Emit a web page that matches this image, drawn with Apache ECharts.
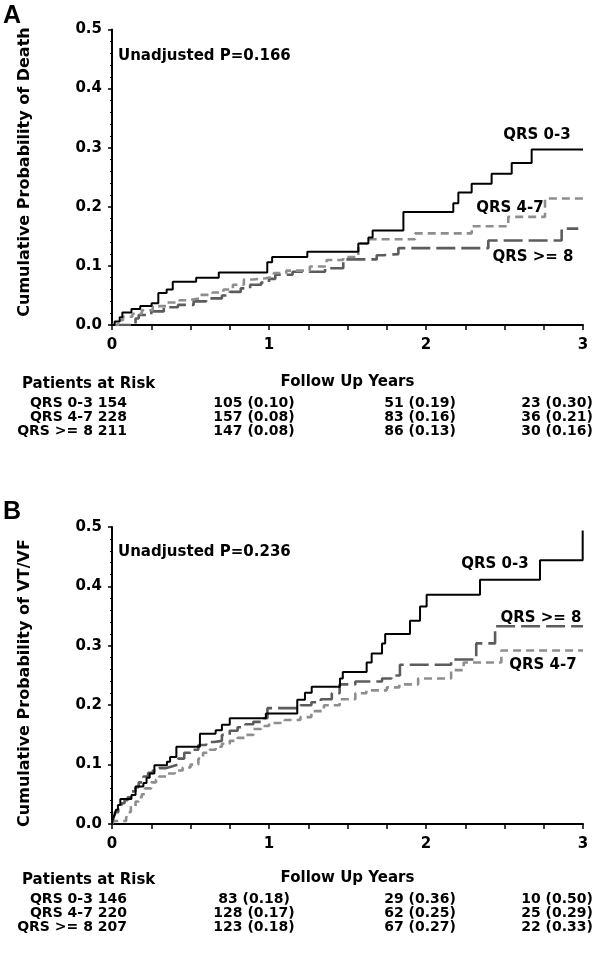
<!DOCTYPE html>
<html><head><meta charset="utf-8">
<script src="https://cdn.jsdelivr.net/npm/echarts/dist/echarts.min.js"></script>
<style>html,body{margin:0;padding:0;background:#fff}#c{width:600px;height:953px}</style>
</head><body><div id="c"></div>
<script>
// ---------- data ----------
const groups = ['QRS 0-3', 'QRS 4-7', 'QRS >= 8'];
const xTickLabels = [0, 1, 2, 3];

// Panel A: cumulative probability of death
const deathT03 = [0, .017, .049, .066, .124, .18, .252, .295, .348, .387, .536, .68, .989, 1.02, 1.244, 1.569, 1.633, 1.66, 1.856, 2.174, 2.206, 2.291, 2.418, 2.546, 2.673, 3.0];
const deathP03 = [0, .006, .013, .021, .027, .032, .037, .054, .06, .073, .08, .089, .106, .115, .124, .138, .148, .16, .191, .206, .224, .239, .256, .274, .297, .297];
const deathT47 = [0, .04, .07, .13, .19, .26, .35, .43, .49, .56, .64, .71, .77, .84, .90, .98, 1.03, 1.11, 1.26, 1.367, 1.473, 1.569, 1.643, 1.93, 2.291, 2.524, 2.758, 3.0];
const deathP47 = [0, .008, .014, .019, .025, .032, .038, .042, .045, .051, .055, .06, .068, .077, .079, .082, .088, .092, .099, .110, .115, .138, .145, .155, .167, .183, .214, .214];
const deathT8 = [0, .15, .17, .25, .33, .42, .52, .6, .7, .75, .82, .88, .95, 1.0, 1.04, 1.15, 1.357, 1.473, 1.686, 1.728, 1.824, 2.397, 2.864, 2.97];
const deathP8 = [0, .011, .017, .023, .03, .034, .04, .045, .05, .056, .062, .068, .072, .078, .085, .09, .096, .111, .118, .12, .13, .143, .163, .163];

// Panel B: cumulative probability of VT/VF
const vtT03 = [0, .006, .017, .025, .038, .053, .124, .15, .2, .22, .24, .27, .35, .37, .41, .56, .66, .70, .75, .98, 1.18, 1.229, 1.272, 1.452, 1.47, 1.622, 1.654, 1.72, 1.74, 1.898, 1.962, 2.004, 2.344, 2.726, 2.998];
const vtP03 = [0, .01, .015, .024, .032, .042, .049, .063, .069, .078, .085, .099, .105, .113, .13, .152, .158, .167, .178, .186, .209, .221, .231, .245, .256, .272, .287, .304, .32, .342, .366, .386, .411, .444, .494];
const vtT47 = [0, .01, .09, .1, .12, .15, .17, .19, .21, .25, .28, .3, .35, .4, .45, .5, .55, .58, .62, .66, .7, .75, .8, .85, .9, .95, 1.0, 1.1, 1.2, 1.27, 1.35, 1.45, 1.55, 1.62, 1.75, 1.83, 1.95, 2.16, 2.24, 2.48, 3.0];
const vtP47 = [0, .005, .01, .02, .03, .038, .045, .05, .06, .07, .075, .08, .085, .09, .095, .1, .11, .12, .125, .13, .135, .14, .145, .15, .16, .165, .17, .175, .18, .19, .2, .21, .22, .225, .23, .235, .245, .259, .272, .292, .292];
const vtT8 = [0, .01, .02, .04, .06, .08, .1, .12, .15, .17, .2, .23, .26, .3, .34, .38, .42, .46, .5, .55, .6, .65, .7, .75, .8, .85, .9, .95, .99, 1.2, 1.27, 1.33, 1.4, 1.45, 1.55, 1.72, 1.78, 1.834, 2.16, 2.32, 2.44, 3.0];
const vtP8 = [0, .01, .02, .03, .035, .04, .045, .055, .062, .07, .08, .086, .09, .094, .097, .1, .11, .12, .125, .133, .138, .14, .15, .157, .163, .168, .172, .178, .195, .2, .205, .21, .22, .235, .24, .245, .25, .268, .277, .304, .333, .333];

// Patients at risk (number, cumulative probability) at years 0..3
const riskDeathN = [[154, 105, 51, 23], [228, 157, 83, 36], [211, 147, 86, 30]];
const riskDeathP = [[null, .10, .19, .30], [null, .08, .16, .21], [null, .08, .13, .16]];
const riskVtN = [[146, 83, 29, 10], [220, 128, 62, 25], [207, 123, 67, 22]];
const riskVtP = [[null, .18, .36, .50], [null, .17, .25, .29], [null, .18, .27, .33]];

const pValues = ['Unadjusted P=0.166', 'Unadjusted P=0.236'];
const yTitles = ['Cumulative Probability of Death', 'Cumulative Probability of VT/VF'];
const panelLetters = ['A', 'B'];

// ---------- chart ----------
const FONT = 'DejaVu Sans';
const zip = (t, p) => t.map((v, i) => [v, p[i]]);
const styles = [
  { color: '#000', width: 2, type: 'solid' },
  { color: '#8e8e8e', width: 2.6, type: [8, 5] },
  { color: '#5c5c5c', width: 2.6, type: [19, 6] }
];
const grids = [
  { left: 112, width: 471, top: 29.5, height: 295.5 },
  { left: 112, width: 471, top: 527, height: 297 }
];
const xAxes = grids.map((g, i) => ({
  type: 'value', gridIndex: i, min: 0, max: 3, interval: 0.25, offset: 5,
  axisLine: { show: true, lineStyle: { color: '#000', width: 2 } },
  axisTick: { show: true, length: 5, lineStyle: { color: '#000', width: 1.5 } },
  axisLabel: {
    margin: 8, color: '#000', fontFamily: FONT, fontWeight: 'bold', fontSize: 15,
    formatter: v => (xTickLabels.indexOf(v) >= 0 ? String(v) : '')
  },
  splitLine: { show: false }
}));
const yAxes = grids.map((g, i) => ({
  type: 'value', gridIndex: i, min: 0, max: 0.5, interval: 0.1, offset: 4,
  axisLine: { show: true, lineStyle: { color: '#000', width: 2 } },
  axisTick: { show: true, length: 4, lineStyle: { color: '#000', width: 1.5 } },
  minorTick: { show: true, splitNumber: 5, length: 2, lineStyle: { color: '#000', width: 1 } },
  axisLabel: {
    margin: 6, color: '#000', fontFamily: FONT, fontWeight: 'bold', fontSize: 15,
    formatter: v => v.toFixed(1)
  },
  splitLine: { show: false }
}));
const panels = [
  [zip(deathT03, deathP03), zip(deathT47, deathP47), zip(deathT8, deathP8)],
  [zip(vtT03, vtP03), zip(vtT47, vtP47), zip(vtT8, vtP8)]
];
const series = [];
panels.forEach((sets, pi) => {
  [2, 1, 0].forEach(gi => {
    series.push({
      type: 'line', name: groups[gi], xAxisIndex: pi, yAxisIndex: pi,
      data: sets[gi], step: 'end', symbol: 'none', animation: false,
      lineStyle: styles[gi], z: 3 - gi
    });
  });
});

const txt = (x, y, text, opt) => ({
  type: 'text', x, y, silent: true,
  style: Object.assign({ text, fill: '#000', font: 'bold 15px "' + FONT + '"', textAlign: 'left', textVerticalAlign: 'middle' }, opt || {})
});
const graphic = [];
// label centres per group: [QRS 0-3, QRS 4-7, QRS >= 8]
const curveLabelPos = [
  [[537, 135], [510, 208], [533, 257]],
  [[495, 564], [543, 665], [541, 618]]
];
const panelTop = [0, 496];
const riskCols = [127, 254, 420, 557];
const risk = [[riskDeathN, riskDeathP], [riskVtN, riskVtP]];
[0, 1].forEach(pi => {
  const o = panelTop[pi];
  graphic.push(txt(3, o + 16, panelLetters[pi], { font: 'bold 25px "Liberation Sans"' }));
  graphic.push({
    type: 'text', x: 25, y: (pi === 0 ? 172 : 683), rotation: Math.PI / 2, silent: true,
    style: { text: yTitles[pi], fill: '#000', font: 'bold 16px "' + FONT + '"', textAlign: 'center', textVerticalAlign: 'middle' }
  });
  graphic.push(txt(118, o + 56, pValues[pi]));
  groups.forEach((g, gi) => {
    const [x, y] = curveLabelPos[pi][gi];
    graphic.push(txt(x, y, g, { textAlign: 'center' }));
  });
  // risk table
  const tb = o + 384;
  graphic.push(txt(22, tb, 'Patients at Risk'));
  graphic.push(txt(347.5, tb - 2, 'Follow Up Years', { textAlign: 'center' }));
  const [N, P] = risk[pi];
  groups.forEach((g, gi) => {
    const y = tb + 19 + gi * 14;
    graphic.push(txt(riskCols[0], y, g + ' ' + N[gi][0], { textAlign: 'right', font: 'bold 14px "' + FONT + '"' }));
    for (let c = 1; c < 4; c++) {
      graphic.push(txt(riskCols[c], y, N[gi][c] + ' (' + P[gi][c].toFixed(2) + ')', { textAlign: 'center', font: 'bold 14px "' + FONT + '"' }));
    }
  });
});

const chart = echarts.init(document.getElementById('c'), null, { renderer: 'canvas' });
chart.setOption({
  animation: false,
  backgroundColor: '#fff',
  grid: grids,
  xAxis: xAxes,
  yAxis: yAxes,
  series,
  graphic
});
</script>
</body></html>
